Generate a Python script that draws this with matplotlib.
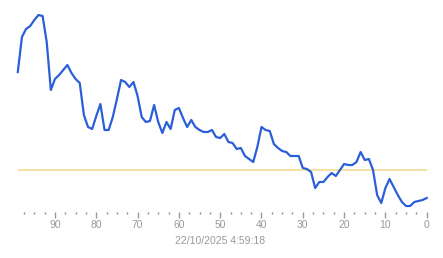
import numpy as np
import matplotlib
matplotlib.use("Agg")
import matplotlib.pyplot as plt
from matplotlib.ticker import MultipleLocator

# samples ago (left = oldest)
ago = list(range(99, -1, -1))
values = [140, 175, 183, 186, 192, 197, 196, 170, 122, 133,
          137, 142, 147, 139, 133, 129, 97, 85, 83, 96,
          108, 82, 82, 95, 113, 132, 130, 125, 130, 116,
          95, 90, 91, 107, 90, 79, 90, 83, 102, 104,
          94, 85, 92, 85, 82, 80, 80, 82, 75, 74,
          78, 70, 69, 63, 64, 56, 53, 50, 65, 85,
          82, 81, 68, 64, 61, 60, 56, 56, 56, 44,
          43, 40, 24, 30, 30, 35, 39, 36, 42, 48,
          47, 47, 50, 60, 52, 53, 42, 17, 9, 24,
          33, 25, 17, 10, 6, 6, 10, 11, 12, 14]
threshold = 42
timestamp = "22/10/2025 4:59:18"

plt.rcParams['font.family'] = ['Liberation Sans', 'DejaVu Sans']

fig = plt.figure(figsize=(4.43, 2.58), dpi=100)
ax = fig.add_axes([17.8/443, 46/258, (426.7-17.8)/443, 202/258])

ax.axhline(threshold, color='#f2d98c', lw=1.1, zorder=1)
ax.plot(ago, values, color='#2a5fd9', lw=1.6, solid_joinstyle='round', zorder=2, clip_on=False)

ax.set_xlim(99, 0)
ax.set_ylim(0, 202)
for s in ax.spines.values():
    s.set_visible(False)
ax.set_yticks([])
ax.xaxis.set_major_locator(MultipleLocator(10))
ax.xaxis.set_minor_locator(MultipleLocator(2.5))
ax.tick_params(axis='x', which='major', length=4, width=1, color='#999999',
               labelsize=7.5, labelcolor='#999999', pad=1.5)
ax.tick_params(axis='x', which='minor', length=1.2, width=1, color='#888888')

fig.text(220/443, 1 - 241/258, timestamp, ha='center', va='center',
         fontsize=7.5, color='#999999')

fig.savefig('out.png', dpi=100)
